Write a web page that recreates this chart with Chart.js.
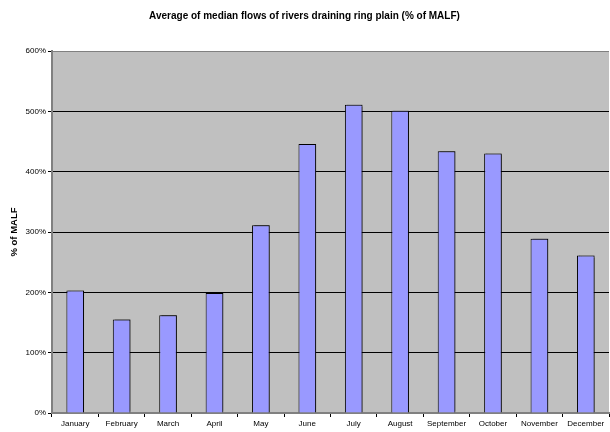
<!DOCTYPE html>
<html>
<head>
<meta charset="utf-8">
<script src="https://cdn.jsdelivr.net/npm/chart.js@4/dist/chart.umd.min.js"></script>
<style>
  html, body { margin: 0; padding: 0; background: #ffffff; }
  #wrap { width: 610px; height: 432px; }
</style>
</head>
<body>
<div id="wrap"><canvas id="c" width="610" height="432"></canvas></div>
<script>
// Monthly average of median flows, as % of MALF
const months = ['January', 'February', 'March', 'April', 'May', 'June',
                'July', 'August', 'September', 'October', 'November', 'December'];
const medianFlowPct = [203, 155, 162, 199, 311, 446, 511, 501, 434, 430, 289, 261];
const yTicks = [0, 100, 200, 300, 400, 500, 600];

const FONT = '"Liberation Sans", Arial, sans-serif';

// Grey plot-area fill behind the bars
const plotBackground = {
  id: 'plotBackground',
  beforeDraw(chart) {
    const { ctx, chartArea: a } = chart;
    ctx.save();
    ctx.fillStyle = '#c0c0c0';
    ctx.fillRect(a.left, a.top, a.right - a.left, a.bottom - a.top);
    ctx.restore();
  }
};

// Soft drop shadow on the bars
const barShadow = {
  id: 'barShadow',
  beforeDatasetsDraw(chart) {
    const ctx = chart.ctx;
    ctx.save();
    ctx.shadowColor = 'rgba(0,0,0,0.45)';
    ctx.shadowOffsetX = 2;
    ctx.shadowOffsetY = -1;
    ctx.shadowBlur = 1;
  },
  afterDatasetsDraw(chart) {
    chart.ctx.restore();
  }
};

new Chart(document.getElementById('c'), {
  type: 'bar',
  data: {
    labels: months,
    datasets: [{
      data: medianFlowPct,
      backgroundColor: '#9999ff',
      borderColor: '#000000',
      borderWidth: 1,
      borderSkipped: 'bottom',
      barPercentage: 0.38,
      categoryPercentage: 1.0
    }]
  },
  options: {
    responsive: false,
    animation: false,
    devicePixelRatio: 1,
    layout: { padding: { left: 0, right: 1, top: 0, bottom: 0 } },
    plugins: {
      legend: { display: false },
      tooltip: { enabled: false },
      title: {
        display: true,
        text: 'Average of median flows of rivers draining ring plain (% of MALF)',
        color: '#000000',
        font: { family: FONT, size: 10, weight: 'bold', lineHeight: 1.2 },
        padding: { top: 10, bottom: 29 }
      }
    },
    scales: {
      x: {
        offset: true,
        grid: {
          display: true,
          offset: true,
          drawOnChartArea: false,
          drawTicks: true,
          tickLength: 4,
          tickColor: '#000000',
          tickWidth: 1
        },
        border: { display: true, color: '#808080', width: 2 },
        ticks: {
          color: '#000000',
          font: { family: FONT, size: 8 },
          maxRotation: 0,
          minRotation: 0,
          autoSkip: false,
          padding: 2
        },
        afterFit(scale) { scale.height = 19; }
      },
      y: {
        min: 0,
        max: 600,
        afterBuildTicks(scale) {
          scale.ticks = yTicks.map(v => ({ value: v }));
        },
        grid: {
          color: ctx => (ctx.tick && ctx.tick.value === 600) ? '#808080' : '#000000',
          lineWidth: 1,
          drawTicks: true,
          tickLength: 4,
          tickColor: '#000000'
        },
        border: { display: true, color: '#808080', width: 2 },
        ticks: {
          color: '#000000',
          font: { family: FONT, size: 8 },
          padding: 2,
          callback: v => v + '%'
        },
        title: {
          display: true,
          text: '% of MALF',
          color: '#000000',
          font: { family: FONT, size: 9.5, weight: 'bold', lineHeight: 1.2 },
          padding: { top: 9, bottom: 0 }
        },
        afterFit(scale) { scale.width = 52; }
      }
    }
  },
  plugins: [plotBackground, barShadow]
});
</script>
</body>
</html>
